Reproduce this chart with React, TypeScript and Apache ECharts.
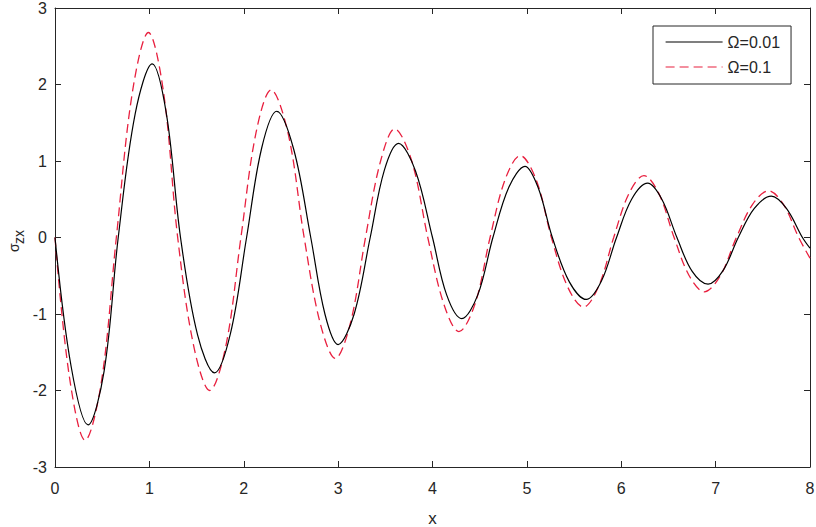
import React, { useEffect, useRef } from "react";
import * as echarts from "echarts";

const seriesNames = ["Ω=0.01", "Ω=0.1"];

// Ω=0.01 (black solid): [x, σzx]
const omega001: [number, number][] = [
  [0, 0], [0.17, -1.68], [0.35, -2.45], [0.52, -1.75], [0.67, 0], [0.85, 1.62],
  [1.03, 2.27], [1.18, 1.62], [1.33, 0], [1.51, -1.27], [1.69, -1.77], [1.86, -1.25],
  [2.03, 0], [2.19, 1.17], [2.35, 1.65], [2.53, 1.15], [2.71, 0], [2.86, -1.0],
  [3.0, -1.4], [3.17, -1.0], [3.34, 0], [3.49, 0.88], [3.64, 1.23], [3.82, 0.87],
  [4.0, 0], [4.15, -0.75], [4.31, -1.06], [4.48, -0.75], [4.64, 0], [4.81, 0.66],
  [4.98, 0.93], [5.12, 0.65], [5.27, 0], [5.45, -0.58], [5.63, -0.81], [5.79, -0.57],
  [5.95, 0], [6.11, 0.5], [6.28, 0.71], [6.43, 0.5], [6.59, 0], [6.75, -0.44],
  [6.92, -0.61], [7.08, -0.43], [7.24, 0], [7.41, 0.38], [7.59, 0.54], [7.75, 0.38],
  [7.92, 0], [8.0, -0.14],
];

// Ω=0.1 (red dashed): [x, σzx]
const omega01: [number, number][] = [
  [0, 0], [0.15, -1.8], [0.32, -2.65], [0.49, -1.9], [0.65, 0], [0.82, 1.9],
  [0.99, 2.68], [1.15, 1.9], [1.3, 0], [1.47, -1.42], [1.64, -2.0], [1.81, -1.42],
  [1.97, 0], [2.13, 1.37], [2.29, 1.93], [2.47, 1.36], [2.64, 0], [2.81, -1.12],
  [2.97, -1.58], [3.13, -1.12], [3.29, 0], [3.45, 1.0], [3.6, 1.42], [3.78, 1.0],
  [3.95, 0], [4.12, -0.87], [4.28, -1.23], [4.45, -0.87], [4.61, 0], [4.77, 0.76],
  [4.93, 1.07], [5.1, 0.75], [5.26, 0], [5.43, -0.64], [5.6, -0.91], [5.76, -0.64],
  [5.92, 0], [6.08, 0.57], [6.24, 0.81], [6.4, 0.57], [6.56, 0], [6.72, -0.5],
  [6.88, -0.71], [7.05, -0.5], [7.22, 0], [7.39, 0.43], [7.56, 0.61], [7.72, 0.43],
  [7.88, 0], [8.0, -0.27],
];

const axisColor = "#262626";
const fontFamily = "'Liberation Sans', Arial, sans-serif";

export default function App() {
  const ref = useRef<HTMLDivElement>(null);

  useEffect(() => {
    if (!ref.current) return;
    const chart = echarts.init(ref.current, undefined, { renderer: "svg" });
    const axisCommon = {
      type: "value" as const,
      axisLine: { show: true, onZero: false, lineStyle: { color: axisColor, width: 1 } },
      axisTick: { show: true, inside: true, length: 6, lineStyle: { color: axisColor } },
      splitLine: { show: false },
    };
    chart.setOption({
      animation: false,
      backgroundColor: "#ffffff",
      textStyle: { fontFamily },
      grid: { left: 55, right: 6, top: 8, bottom: 60, containLabel: false, outerBoundsMode: "none" },
      xAxis: [
        {
          ...axisCommon,
          position: "bottom",
          min: 0,
          max: 8,
          interval: 1,
          name: "x",
          nameLocation: "middle",
          nameGap: 43,
          nameTextStyle: { fontSize: 17, color: axisColor, fontFamily },
          axisLabel: { fontSize: 16, color: axisColor, margin: 13, fontFamily },
        },
        {
          ...axisCommon,
          position: "top",
          min: 0,
          max: 8,
          interval: 1,
          axisLabel: { show: false },
        },
      ],
      yAxis: [
        {
          ...axisCommon,
          position: "left",
          min: -3,
          max: 3,
          interval: 1,
          axisLabel: { fontSize: 16, color: axisColor, margin: 8, fontFamily },
        },
        {
          ...axisCommon,
          position: "right",
          min: -3,
          max: 3,
          interval: 1,
          axisLabel: { show: false },
        },
      ],
      legend: {
        orient: "vertical",
        left: 653,
        top: 26,
        padding: [8, 11, 9, 12],
        itemGap: 9,
        itemWidth: 57,
        itemHeight: 14,
        borderColor: axisColor,
        borderWidth: 1,
        borderRadius: 0,
        backgroundColor: "#ffffff",
        itemStyle: { opacity: 0 },
        lineStyle: { width: 1.2 },
        textStyle: { fontSize: 16, color: axisColor, fontFamily },
        data: seriesNames,
      },
      graphic: [
        {
          type: "group",
          x: 14,
          y: 252,
          rotation: Math.PI / 2,
          children: [
            {
              type: "text",
              x: 0,
              y: 0,
              style: { text: "σ", fontSize: 14, fill: axisColor, fontFamily, textAlign: "left", textVerticalAlign: "middle" },
            },
            {
              type: "text",
              x: 8,
              y: 5,
              style: { text: "zx", fontSize: 14, fill: axisColor, fontFamily, textAlign: "left", textVerticalAlign: "middle" },
            },
          ],
        },
      ],
      series: [
        {
          name: seriesNames[0],
          type: "line",
          data: omega001,
          smooth: 0.35,
          symbol: "none",
          lineStyle: { color: "#000000", width: 1.2 },
          itemStyle: { color: "#000000" },
          z: 3,
        },
        {
          name: seriesNames[1],
          type: "line",
          data: omega01,
          smooth: 0.35,
          symbol: "none",
          lineStyle: { color: "#e8203f", width: 1.3, type: [9, 5] },
          itemStyle: { color: "#e8203f" },
          z: 2,
        },
      ],
    });
    return () => chart.dispose();
  }, []);

  return <div ref={ref} style={{ position: "absolute", left: 0, top: 0, width: 816, height: 527 }} />;
}
